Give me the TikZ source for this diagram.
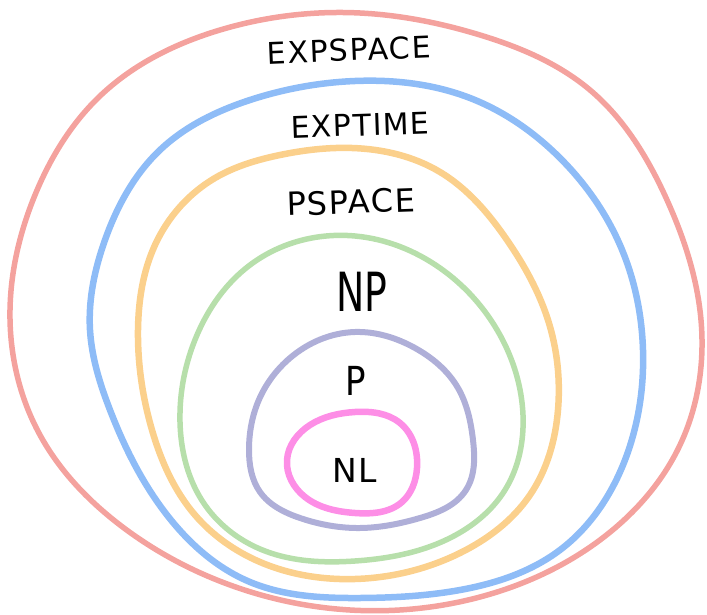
\documentclass[tikz,border=0pt]{standalone}
\usepackage{fontspec}
\usetikzlibrary{hobby}
\setmainfont{DejaVu Sans}
\newfontfamily\lblfont[LetterSpace=5]{DejaVu Sans}
\definecolor{cred}{HTML}{F4A29E}
\definecolor{cblue}{HTML}{8EBCF7}
\definecolor{corange}{HTML}{FBD08C}
\definecolor{cgreen}{HTML}{B7DFAB}
\definecolor{cpurple}{HTML}{AFAFD8}
\definecolor{cpink}{HTML}{FD8EE6}
\tikzset{
  blob/.style={line width=#1, line cap=round, line join=round, use Hobby shortcut, closed=true},
  lbl/.style={inner sep=0pt, text=black},
}
\begin{document}
\begin{tikzpicture}[x=1pt,y=-1pt]
\useasboundingbox (0,0) rectangle (707,615);
% EXPSPACE
\draw[blob=5.5pt, cred] (360,13) .. (480,35) .. (590,90) .. (667,200) .. (701,320) .. (680,445) .. (600,540)
 .. (480,597) .. (350,610) .. (230,585) .. (120,525) .. (40,435) .. (10,310) .. (35,195) .. (100,96) .. (220,30);
% EXPTIME
\draw[blob=6.5pt, cblue] (355,81) .. (470,98) .. (560,158) .. (620,245) .. (643,350) .. (625,460) .. (560,550)
 .. (460,590) .. (360,598) .. (250,582) .. (167,515) .. (110,410) .. (90,330) .. (105,240) .. (160,150) .. (250,100);
% PSPACE
\draw[blob=6.5pt, corange] (352,148) .. (440,172) .. (507,240) .. (548,320) .. (558,410) .. (530,495) .. (460,553)
 .. (355,579) .. (260,562) .. (195,515) .. (152,430) .. (138,330) .. (155,245) .. (215,178) .. (280,155);
% NP
\draw[blob=5.5pt, cgreen] (355,236) .. (440,268) .. (500,335) .. (523,415) .. (505,490) .. (450,538)
 .. (355,561) .. (265,551) .. (205,505) .. (180,422) .. (197,335) .. (250,265);
% P
\draw[blob=6pt, cpurple] (355,332) .. (415,348) .. (458,388) .. (473,440) .. (466,490) .. (420,518) .. (360,528)
 .. (300,518) .. (260,492) .. (249,450) .. (258,402) .. (290,358);
% NL
\draw[blob=6.5pt, cpink] (355,412) .. (400,423) .. (417,468) .. (402,502) .. (355,513)
 .. (305,497) .. (287,460) .. (310,425);
\node[lbl, rotate=2.4, font=\lblfont\fontsize{30}{30}\selectfont] (expspace) at (349,50) {EXPSPACE};
\node[lbl, rotate=2, font=\lblfont\fontsize{30}{30}\selectfont] (exptime) at (360,125) {EXPTIME};
\node[lbl, rotate=2, font=\lblfont\fontsize{32}{32}\selectfont] (pspace) at (351,202) {PSPACE};
\node[lbl, xscale=0.7, font=\fontsize{54}{54}\selectfont] (np) at (362,292) {NP};
\node[lbl, xscale=0.85, font=\fontsize{40}{40}\selectfont] (p) at (356,381) {P};
\node[lbl, font=\lblfont\fontsize{33}{33}\selectfont] (nl) at (355,470) {NL};
\end{tikzpicture}
\end{document}
